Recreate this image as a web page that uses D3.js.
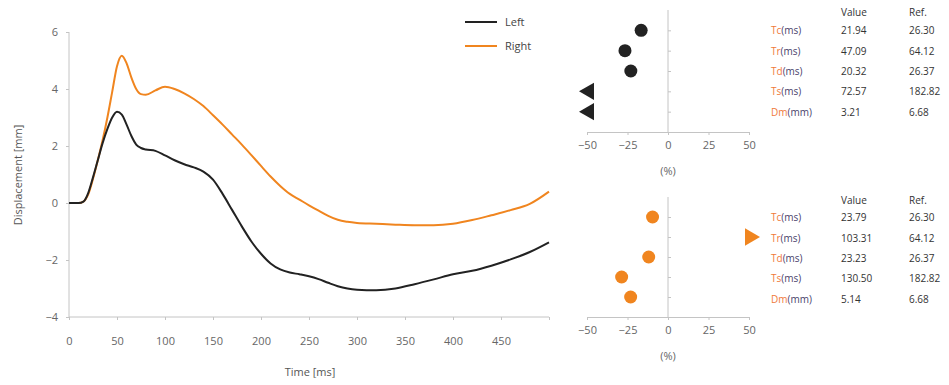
<!DOCTYPE html>
<html>
<head>
<meta charset="utf-8">
<script src="https://cdn.jsdelivr.net/npm/d3@7"></script>
<style>
	body { margin: 0; background: #fff; }
	text { font-family: 'Open Sans', 'Noto Sans', sans-serif; fill: #555; }
	.axis path, .axis line { stroke: #c4c4c4; }
	.axis text { font-size: 11px; fill: #666; }
</style>
</head>
<body>
<div id="js_chart"></div>
<script>
/*globals d3*/

// displacement curves
const timeMs = [0, 10, 15, 20, 25, 30, 35, 40, 45, 50, 55, 60, 65, 70, 75, 80, 90, 100, 110, 120,
	130, 140, 150, 160, 170, 180, 190, 200, 210, 220, 230, 240, 250, 260, 270, 280, 290, 300,
	320, 340, 360, 380, 400, 420, 440, 460, 480, 500];
const leftDisp = [0, 0, 0.05, 0.35, 0.9, 1.5, 2.1, 2.6, 3.0, 3.2, 3.1, 2.75, 2.35, 2.05, 1.93, 1.88, 1.83, 1.67, 1.5, 1.36,
	1.25, 1.1, 0.82, 0.32, -0.25, -0.82, -1.35, -1.78, -2.12, -2.33, -2.44, -2.5, -2.57, -2.67, -2.8, -2.92, -3.0, -3.04,
	-3.06, -3.0, -2.85, -2.68, -2.5, -2.38, -2.2, -1.98, -1.72, -1.38];
const rightDisp = [0, 0, 0.05, 0.3, 0.85, 1.5, 2.2, 3.0, 3.9, 4.8, 5.17, 4.9, 4.4, 4.0, 3.82, 3.8, 3.95, 4.08, 4.0, 3.85,
	3.65, 3.4, 3.08, 2.75, 2.4, 2.05, 1.68, 1.3, 0.93, 0.6, 0.32, 0.12, -0.08, -0.27, -0.45, -0.59, -0.66, -0.7,
	-0.73, -0.76, -0.78, -0.78, -0.73, -0.6, -0.43, -0.25, -0.03, 0.4];
const yTicks = [-4, -2, 0, 2, 4, 6];
const xTicks = [0, 50, 100, 150, 200, 250, 300, 350, 400, 450];

// parameter tables
const paramLabels = ['Tc', 'Tr', 'Td', 'Ts', 'Dm'];
const paramUnits = ['(ms)', '(ms)', '(ms)', '(ms)', '(mm)'];
const leftValues = ['21.94', '47.09', '20.32', '72.57', '3.21'];
const rightValues = ['23.79', '103.31', '23.23', '130.50', '5.14'];
const refValues = ['26.30', '64.12', '26.37', '182.82', '6.68'];
const pctTicks = [-50, -25, 0, 25, 50];

const colorLeft = '#222222';
const colorRight = '#f0851f';
const colorLabel = '#f07a3a';

let svg = d3.select('#js_chart').append('svg')
	.attr('width', 949)
	.attr('height', 385);

function drawMainChart() {
	let x = d3.scaleLinear().domain([0, 500]).range([69, 549]);
	let y = d3.scaleLinear().domain([-4, 6]).range([317, 32]);

	svg.append('g').classed('axis', true)
		.attr('transform', 'translate(0,317)')
		.call(d3.axisBottom(x).tickValues(xTicks.concat([500])).tickSize(3).tickPadding(17)
			.tickFormat(function (d) { return d === 500 ? '' : d; }))
		.call(function (g) { g.select('.domain').attr('d', 'M69,0H549'); });
	svg.append('g').classed('axis', true)
		.attr('transform', 'translate(69,0)')
		.call(d3.axisLeft(y).tickValues(yTicks).tickSize(3).tickPadding(8))
		.call(function (g) { g.select('.domain').attr('d', 'M0,32V317'); });

	let line = d3.line()
		.x(function (d) { return x(d[0]); })
		.y(function (d) { return y(d[1]); })
		.curve(d3.curveMonotoneX);
	svg.append('path')
		.attr('d', line(d3.zip(timeMs, rightDisp)))
		.style('fill', 'none').style('stroke', colorRight).style('stroke-width', 2);
	svg.append('path')
		.attr('d', line(d3.zip(timeMs, leftDisp)))
		.style('fill', 'none').style('stroke', colorLeft).style('stroke-width', 2);

	// axis titles
	svg.append('text').text('Time [ms]')
		.attr('x', 310).attr('y', 376)
		.style('text-anchor', 'middle').style('font-size', '11px');
	svg.append('text').text('Displacement [mm]')
		.attr('transform', 'translate(22,175) rotate(-90)')
		.style('text-anchor', 'middle').style('font-size', '11px');

	// legend
	[['Left', colorLeft, 22], ['Right', colorRight, 46]].forEach(function (l) {
		svg.append('line')
			.attr('x1', 465).attr('x2', 497).attr('y1', l[2]).attr('y2', l[2])
			.style('stroke', l[1]).style('stroke-width', 2);
		svg.append('text').text(l[0])
			.attr('x', 505).attr('y', l[2] + 4)
			.style('font-size', '11px').style('fill', '#444');
	});
}

function drawDotPanel(top, axisY, values, color) {
	let x = d3.scaleLinear().domain([-50, 50]).range([587, 749]);
	let y = d3.scalePoint().domain(paramLabels).range([top, axisY]).padding(1);

	svg.append('g').classed('axis', true)
		.attr('transform', 'translate(0,' + axisY + ')')
		.call(d3.axisBottom(x).tickValues(pctTicks).tickSize(3).tickPadding(6));
	svg.append('g').classed('axis', true)
		.attr('transform', 'translate(' + x(0) + ',0)')
		.call(d3.axisRight(y).tickSize(3).tickFormat(''))
		.call(function (g) { g.select('.domain').attr('d', 'M0,' + top + 'V' + axisY); });
	svg.append('text').text('(%)')
		.attr('x', x(0)).attr('y', axisY + 43)
		.style('text-anchor', 'middle').style('font-size', '11px').style('fill', '#666');

	let pts = paramLabels.map(function (p, i) {
		return { key: p, pct: (values[i] - refValues[i]) / refValues[i] * 100 };
	});
	let inRange = pts.filter(function (d) { return Math.abs(d.pct) <= 50; });
	let outRange = pts.filter(function (d) { return Math.abs(d.pct) > 50; });

	svg.append('g').selectAll('circle')
		.data(inRange).enter().append('circle')
		.attr('cx', function (d) { return x(d.pct); })
		.attr('cy', function (d) { return y(d.key); })
		.attr('r', 6.5)
		.style('fill', color);
	// values outside +-50% are drawn as arrows at the edge
	svg.append('g').selectAll('path')
		.data(outRange).enter().append('path')
		.attr('d', d3.symbol(d3.symbolTriangle, 130))
		.attr('transform', function (d) {
			let cx = d.pct < 0 ? x(-50) + 2 : x(50) + 1;
			return 'translate(' + cx + ',' + y(d.key) + ') rotate(' + (d.pct < 0 ? -90 : 90) + ')';
		})
		.style('fill', color);
}

function drawTable(rowTop, headerY, values) {
	const _xLabel = 771;
	const _xValue = 841;
	const _xRef = 909;
	svg.append('text').text('Value').attr('x', _xValue).attr('y', headerY)
		.style('font-size', '10px').style('fill', '#333');
	svg.append('text').text('Ref.').attr('x', _xRef).attr('y', headerY)
		.style('font-size', '10px').style('fill', '#333');
	let y = d3.scalePoint().domain(paramLabels).range([rowTop, rowTop + 122]).padding(1);
	let rows = svg.selectAll(null)
		.data(paramLabels).enter().append('g')
		.attr('transform', function (d) { return 'translate(0,' + (y(d) + 4) + ')'; });
	let lbl = rows.append('text').attr('x', _xLabel).style('font-size', '10px');
	lbl.append('tspan').text(function (d) { return d; }).style('fill', colorLabel);
	lbl.append('tspan').text(function (d, i) { return paramUnits[i]; }).style('fill', '#4a3f6b');
	rows.append('text').attr('x', _xValue)
		.text(function (d, i) { return values[i]; })
		.style('font-size', '10px').style('fill', '#333');
	rows.append('text').attr('x', _xRef)
		.text(function (d, i) { return refValues[i]; })
		.style('font-size', '10px').style('fill', '#333');
}

drawMainChart();
drawDotPanel(10, 132, leftValues, colorLeft);
drawDotPanel(197, 317, rightValues, colorRight);
drawTable(10, 16, leftValues);
drawTable(197, 204, rightValues);
</script>
</body>
</html>
